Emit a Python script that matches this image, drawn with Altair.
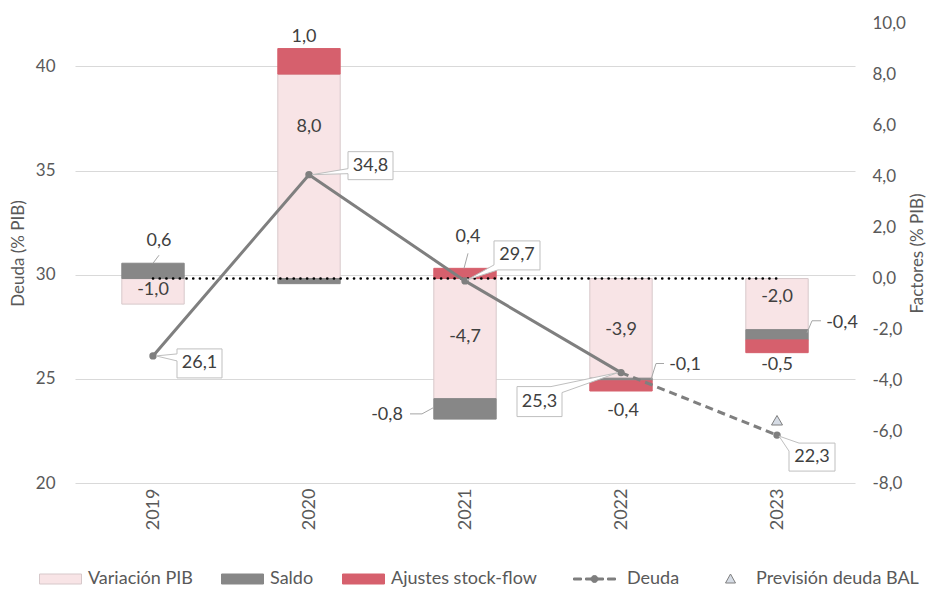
import altair as alt
import pandas as pd

# ---------------- data ----------------
YEARS = [2019, 2020, 2021, 2022, 2023]
VAR_PIB = [-1.0, 8.0, -4.7, -3.9, -2.0]
SALDO = [0.6, -0.2, -0.8, -0.1, -0.4]
AJUSTES = [0.0, 1.0, 0.4, -0.4, -0.5]
DEUDA = [26.1, 34.8, 29.7, 25.3, 22.3]
N_OBSERVED = 4                      # 2019-2022 observed (solid), 2023 forecast (dashed)
PREVISION_YEAR = [2023]
PREVISION_BAL = [23.0]

SERIES = ["Variación PIB", "Saldo", "Ajustes stock-flow", "Deuda", "Previsión deuda BAL"]
LEFT_TICKS = [20, 25, 30, 35, 40]
RIGHT_TICKS = [-8, -6, -4, -2, 0, 2, 4, 6, 8, 10]
HIDDEN_LABELS = [(2020, "Saldo")]

# ---------------- style ----------------
FONT = "Lato"
TXT = "#404040"
AX = "#595959"
GRAY = "#878787"
LINE = "#7f7f7f"
FILLS = ["#f8e4e6", GRAY, "#d6606d", LINE, "#d6dce5"]
STROKES = ["#d7c8ca", GRAY, "#d6606d", LINE, "#7f7f7f"]
RECT = "M-20.5,-5H21.5V5H-20.5Z"
DEUDA_SYM = ("M-33.5,0 M-25.5,-1H-17.5V1H-25.5Z M-13.5,-1H4.5V1H-13.5Z M8.5,-1H16.5V1H8.5Z "
             "M-1,0A3.5,3.5 0 1,1 -8,0A3.5,3.5 0 1,1 -1,0Z")
TRI_LEG = "M-19.5,0 M2.5,-5L7.5,4H-2.5Z"
TRI_SYM = "M0,-5L5.5,4.5H-5.5Z"
SHAPES = [RECT, RECT, RECT, DEUDA_SYM, TRI_LEG]

LABEL_OFFSETS = {
    (2019, "Variación PIB"): (0, -1),
    (2019, "Saldo"): (6, -30),
    (2020, "Variación PIB"): (0, -49),
    (2020, "Ajustes stock-flow"): (-5, -24),
    (2021, "Variación PIB"): (0, -2),
    (2021, "Saldo"): (-78, 6),
    (2021, "Ajustes stock-flow"): (3, -36),
    (2022, "Variación PIB"): (0, 2),
    (2022, "Saldo"): (64, -15),
    (2022, "Ajustes stock-flow"): (2, 25),
    (2023, "Variación PIB"): (0, -7),
    (2023, "Saldo"): (65, -12),
    (2023, "Ajustes stock-flow"): (0, 19),
}
LEADERS = {
    (2019, "Saldo"): ("y1", "M0,0L6,-8"),
    (2021, "Saldo"): ("mid", "M-32,-1L-43,5H-55"),
    (2021, "Ajustes stock-flow"): ("y1", "M-1,0L3,-15"),
    (2022, "Saldo"): ("mid", "M30,0L35,-16H43"),
    (2023, "Saldo"): ("mid", "M30,-2L35,-14H44"),
}
CALLOUTS = {
    2019: ("M24,22V5L3,0L24,-2V-7H69V22Z", 46.5, 7.5),
    2020: ("M39,5V-1L3,0L39,-6V-23H84V5Z", 61.5, -9),
    2021: ("M29,-40V-16L2,-1L33,-11H75V-40Z", 52, -25.5),
    2022: ("M-104,14H-70L-3,0L-59,20V44H-104Z", -81.5, 29),
    2023: ("M12,36V16L2,1L22,8H58V36Z", 35, 22),
}


def fmt(v):
    return f"{v:.1f}".replace(".", ",")


# ---------------- tables ----------------
rows = []
for i, yr in enumerate(YEARS):
    pos, neg = 0.0, 0.0
    for serie, vals in (("Variación PIB", VAR_PIB), ("Saldo", SALDO), ("Ajustes stock-flow", AJUSTES)):
        v = vals[i]
        if v == 0:
            continue
        if v > 0:
            y0, y1 = pos, pos + v
            pos = y1
        else:
            y0, y1 = neg, neg + v
            neg = y1
        rows.append(dict(year=yr, xa=yr - 0.2, xb=yr + 0.2, serie=serie, value=v,
                         y0=y0, y1=y1, mid=(y0 + y1) / 2, label=fmt(v)))
bars = pd.DataFrame(rows)

deuda = pd.DataFrame({"year": YEARS, "deuda": DEUDA, "label": [fmt(v) for v in DEUDA]})
deuda_solid = deuda.iloc[:N_OBSERVED]
deuda_dash = deuda.iloc[N_OBSERVED - 1:]
prev = pd.DataFrame({"year": PREVISION_YEAR, "deuda": PREVISION_BAL})
zero = pd.DataFrame({"x0": [min(YEARS)], "x1": [max(YEARS)], "y": [0.0]})
legend_df = pd.DataFrame({"serie": SERIES})

# ---------------- scales / axes ----------------
XS = alt.Scale(domain=[2018.5, 2023.5], nice=False, zero=False)
SC_L = alt.Scale(domain=[20, 42.08], nice=False, zero=False)
SC_R = alt.Scale(domain=[-8, 10], nice=False, zero=False)

# the same x axis is given to every layer so that Vega-Lite merges them into one
X_AXIS = alt.Axis(orient="bottom", values=YEARS, format="d", labelAngle=270, title=None,
                  grid=False, domain=False, ticks=False, labelPadding=5, labelFont=FONT,
                  labelFontSize=18, labelColor=AX, labelOverlap=False, labelFlush=False)
L_AXIS = alt.Axis(orient="left", values=LEFT_TICKS, title="Deuda (% PIB)", grid=True,
                  gridColor="#d9d9d9", gridWidth=1, domain=False, ticks=False,
                  labelPadding=20, labelFont=FONT, labelFontSize=17, labelColor=AX,
                  titleFont=FONT, titleFontSize=17, titleColor=AX, titleFontWeight="normal",
                  titlePadding=8)
R_AXIS = alt.Axis(orient="right", values=RIGHT_TICKS, title="Factores (% PIB)", grid=False,
                  domain=False, ticks=False, labelPadding=17, labelFont=FONT,
                  labelFontSize=17, labelColor=AX,
                  labelExpr="(datum.value < 0 ? '-' : '') + replace(format(abs(datum.value), '.1f'), '.', ',')",
                  titleFont=FONT, titleFontSize=17, titleColor=AX, titleFontWeight="normal",
                  titleAngle=270, titleBaseline="top", titlePadding=4)

LEG = alt.Legend(title=None, orient="none", legendX=-24, legendY=547, direction="horizontal",
                 columns=5, symbolSize=4, symbolStrokeWidth=1, labelFont=FONT,
                 labelFontSize=18, labelColor=AX, labelOffset=19, columnPadding=26,
                 labelLimit=400, symbolOpacity=1)

FILL_SC = alt.Scale(domain=SERIES, range=FILLS)
STROKE_SC = alt.Scale(domain=SERIES, range=STROKES)
SHAPE_SC = alt.Scale(domain=SERIES, range=SHAPES)


def xq(field="year"):
    return alt.X(f"{field}:Q", scale=XS, axis=X_AXIS)


def yl(field, axis=None):
    return alt.Y(f"{field}:Q", scale=SC_L, axis=axis)


def yr(field, axis=None):
    return alt.Y(f"{field}:Q", scale=SC_R, axis=axis)


layers = []

# bars
layers.append(
    alt.Chart(bars).mark_bar(strokeWidth=1, opacity=1).encode(
        x=xq("xa"), x2="xb:Q",
        y=yr("y0", R_AXIS), y2="y1:Q",
        fill=alt.Fill("serie:N", scale=FILL_SC, legend=LEG),
        stroke=alt.Stroke("serie:N", scale=STROKE_SC, legend=LEG),
    )
)

# dotted zero line
layers.append(
    alt.Chart(zero).mark_rule(color="black", strokeWidth=2.6, strokeDash=[0.1, 6.6],
                              strokeCap="round").encode(
        x=xq("x0"), x2="x1:Q", y=yr("y")
    )
)

# deuda lines
layers.append(
    alt.Chart(deuda_solid).mark_line(color=LINE, strokeWidth=3).encode(
        x=xq(), y=yl("deuda", L_AXIS)
    )
)
layers.append(
    alt.Chart(deuda_dash).mark_line(color=LINE, strokeWidth=3, strokeDash=[8, 5]).encode(
        x=xq(), y=yl("deuda")
    )
)
layers.append(
    alt.Chart(deuda).mark_point(filled=True, shape="circle", size=55, color=LINE, opacity=1).encode(
        x=xq(), y=yl("deuda")
    )
)
# forecast triangle
layers.append(
    alt.Chart(prev).mark_point(filled=True, shape=TRI_SYM, size=4, fill="#d6dce5",
                               stroke="#7f7f7f", strokeWidth=1, opacity=1).encode(
        x=xq(), y=yl("deuda")
    )
)

# legend-only layer
layers.append(
    alt.Chart(legend_df).mark_point(filled=True, size=4, opacity=1).encode(
        fill=alt.Fill("serie:N", scale=FILL_SC, legend=LEG),
        stroke=alt.Stroke("serie:N", scale=STROKE_SC, legend=LEG),
        shape=alt.Shape("serie:N", scale=SHAPE_SC, legend=LEG),
    ).transform_filter("false")
)

# callout boxes + labels for deuda
for yr_, (path, dx, dy) in CALLOUTS.items():
    sub = alt.Chart(deuda).transform_filter(f"datum.year == {yr_}")
    layers.append(
        sub.mark_point(shape=path, size=4, filled=True, fill="white", stroke="#bfbfbf",
                       strokeWidth=1, opacity=1).encode(x=xq(), y=yl("deuda"))
    )
    layers.append(
        sub.mark_text(font=FONT, fontSize=18, color=TXT, dx=dx, dy=dy, align="center",
                      baseline="middle").encode(x=xq(), y=yl("deuda"), text="label:N")
    )

# bar labels
for (yr_, serie), (dx, dy) in LABEL_OFFSETS.items():
    if (yr_, serie) in HIDDEN_LABELS:
        continue
    layers.append(
        alt.Chart(bars).transform_filter(
            f"datum.year == {yr_} && datum.serie == '{serie}'"
        ).mark_text(font=FONT, fontSize=18, color=TXT, dx=dx, dy=dy, align="center",
                    baseline="middle").encode(x=xq(), y=yr("mid"), text="label:N")
    )

# leader lines
for (yr_, serie), (anchor, path) in LEADERS.items():
    layers.append(
        alt.Chart(bars).transform_filter(
            f"datum.year == {yr_} && datum.serie == '{serie}'"
        ).mark_point(shape=path, size=4, filled=False, stroke="#a6a6a6", strokeWidth=1,
                     opacity=1).encode(x=xq(), y=yr(anchor))
    )

chart = alt.layer(*layers).resolve_scale(y="independent").properties(
    width=780, height=460,
    autosize=alt.AutoSizeParams(type="none"),
    padding={"left": 67, "top": 15, "right": 74, "bottom": 106},
).configure(font=FONT).configure_view(strokeWidth=0, stroke="transparent")

chart.save("out.html", embed_options={"renderer": "svg", "actions": False})
